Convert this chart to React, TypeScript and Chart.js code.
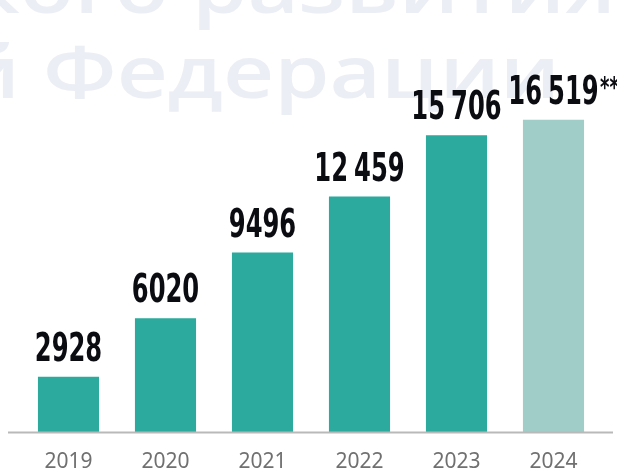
import React, { useEffect, useRef } from "react";
import { Chart, registerables } from "chart.js";

Chart.register(...registerables);

const years = ["2019", "2020", "2021", "2022", "2023", "2024"];
const values = [2928, 6020, 9496, 12459, 15706, 16519];
const valueLabels = ["2928", "6020", "9496", "12\u2005459", "15\u2005706", "16\u2005519"];
const labelNotes = ["", "", "", "", "", "**"];
const barColors = ["#2BAA9D", "#2BAA9D", "#2BAA9D", "#2BAA9D", "#2BAA9D", "#A0CDC8"];
const watermarkLines = ["экономического развития", "Российской Федерации"];
const watermarkWords = ["развития", "Федерации"];

const LABEL_FONT = '"Liberation Sans Narrow", "DejaVu Sans Condensed", "Arial Narrow", sans-serif';

const watermarkPlugin = {
  id: "watermark",
  beforeDraw(chart: any) {
    const ctx = chart.ctx;
    ctx.save();
    ctx.fillStyle = "#ECEEF6";
    ctx.font = '600 73px "Open Sans", "Noto Sans", sans-serif';
    ctx.textAlign = "right";
    ctx.textBaseline = "alphabetic";
    const specs = [
      { right: 616, width: 424, base: 13 },
      { right: 560, width: 517, base: 98 },
    ];
    watermarkLines.forEach((line, i) => {
      const s = specs[i];
      const w = ctx.measureText(watermarkWords[i]).width;
      const sx = s.width / w;
      ctx.save();
      ctx.translate(s.right, s.base);
      ctx.scale(sx, 1);
      ctx.fillText(line, 0, 0);
      ctx.restore();
    });
    ctx.restore();
  },
};

const baselinePlugin = {
  id: "baseline",
  afterDatasetsDraw(chart: any) {
    const ctx = chart.ctx;
    const y = chart.chartArea.bottom + 0.5;
    ctx.save();
    ctx.strokeStyle = "#B9B9B9";
    ctx.lineWidth = 2;
    ctx.beginPath();
    ctx.moveTo(8, y);
    ctx.lineTo(613, y);
    ctx.stroke();
    ctx.restore();
  },
};

const valueLabelPlugin = {
  id: "valueLabels",
  afterDatasetsDraw(chart: any) {
    const ctx = chart.ctx;
    const meta = chart.getDatasetMeta(0);
    ctx.save();
    ctx.fillStyle = "#0B0B12";
    ctx.textBaseline = "alphabetic";
    meta.data.forEach((bar: any, i: number) => {
      const x = bar.x;
      const y = bar.y - 16;
      const sx = 0.69;
      ctx.font = `bold 39px ${LABEL_FONT}`;
      ctx.save();
      ctx.translate(x, y);
      ctx.scale(sx, 1);
      ctx.textAlign = "center";
      ctx.fillText(valueLabels[i], 0, 0);
      const w = ctx.measureText(valueLabels[i]).width;
      if (labelNotes[i]) {
        ctx.font = `bold 29px ${LABEL_FONT}`;
        ctx.textAlign = "left";
        ctx.fillText(labelNotes[i], w / 2 + 2, -7);
      }
      ctx.restore();
    });
    ctx.restore();
  },
};

export default function App() {
  const ref = useRef<HTMLCanvasElement | null>(null);
  useEffect(() => {
    if (!ref.current) return;
    const chart = new Chart(ref.current, {
      type: "bar",
      data: {
        labels: years,
        datasets: [
          {
            data: values,
            backgroundColor: barColors,
            borderWidth: 0,
            barPercentage: 0.63,
            categoryPercentage: 1,
          },
        ],
      },
      options: {
        responsive: false,
        animation: false,
        layout: { padding: { left: 20, right: 15, top: 54, bottom: 0 } },
        plugins: { legend: { display: false }, tooltip: { enabled: false } },
        scales: {
          x: {
            grid: { display: false, drawTicks: false },
            border: { display: false },
            ticks: {
              color: "#707070",
              font: { family: '"Noto Sans", sans-serif', size: 21 },
              padding: 17,
              maxRotation: 0,
            },
            afterFit: (scale: any) => {
              scale.height = 38;
            },
          },
          y: { display: false, min: 0, max: 20000 },
        },
      },
      plugins: [watermarkPlugin, baselinePlugin, valueLabelPlugin],
    } as any);
    return () => chart.destroy();
  }, []);
  return (
    <canvas
      ref={ref}
      width={617}
      height={470}
      style={{ position: "absolute", left: 0, top: 0, display: "block" }}
    />
  );
}
